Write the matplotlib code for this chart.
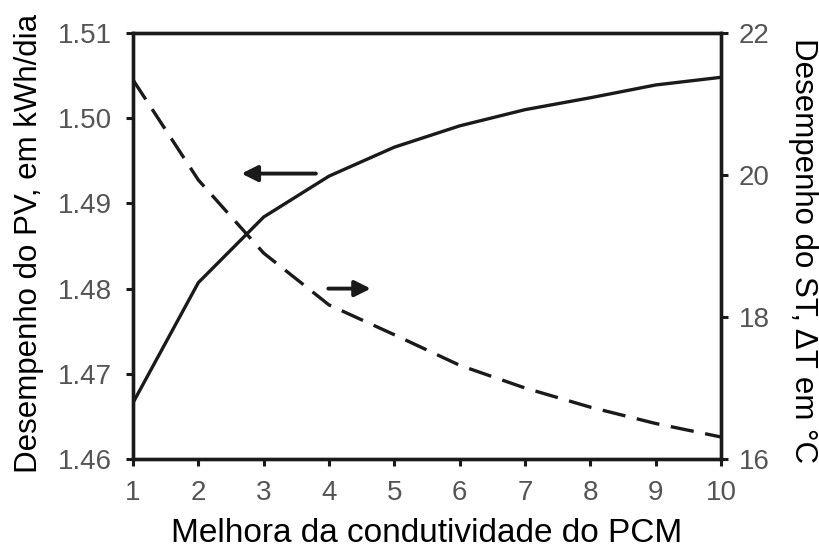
import matplotlib
matplotlib.use("Agg")
import matplotlib.pyplot as plt

plt.rcParams['font.family'] = ['Liberation Sans', 'DejaVu Sans']

conductivity = [1, 2, 3, 4, 5, 6, 7, 8, 9, 10]
pv_output = [1.4666, 1.4807, 1.4884, 1.4932, 1.4966, 1.4991, 1.5010, 1.5024, 1.5039, 1.5048]
st_delta_t = [21.34, 19.93, 18.90, 18.17, 17.75, 17.32, 17.00, 16.73, 16.50, 16.31]

x_ticks = [1, 2, 3, 4, 5, 6, 7, 8, 9, 10]
left_ticks = [1.46, 1.47, 1.48, 1.49, 1.50, 1.51]
right_ticks = [16, 18, 20, 22]

tick_color = '#555555'
line_color = '#1a1a1a'
fig = plt.figure(figsize=(8.2, 5.49), dpi=100)
ax = fig.add_axes([133/820, 1-459/549, (721-133)/820, (459-33)/549])
ax2 = ax.twinx()

ax.plot(conductivity, pv_output, color=line_color, lw=2.4, solid_joinstyle='round')
ax2.plot(conductivity, st_delta_t, color=line_color, lw=2.4, ls=(0, (7, 3.5)))

ax.set_xlim(1, 10)
ax.set_ylim(1.46, 1.51)
ax2.set_ylim(16, 22)
ax.set_xticks(x_ticks)
ax.set_yticks(left_ticks)
ax.set_yticklabels([f"{v:.2f}" for v in left_ticks])
ax2.set_yticks(right_ticks)

for a in (ax, ax2):
    for s in a.spines.values():
        s.set_linewidth(2.4)
        s.set_color(line_color)
    a.tick_params(direction='out', length=5, width=2.2, color=line_color,
                  labelsize=20, labelcolor=tick_color)
ax.tick_params(axis='x', pad=10)
ax.tick_params(axis='y', pad=10)
ax2.tick_params(axis='y', pad=8)

ax.set_xlabel('Melhora da condutividade do PCM', fontsize=24)
ax.xaxis.set_label_coords(0.499, -0.174)
ax.xaxis.label.set_va('center')

ax.set_ylabel('Desempenho do PV, em kWh/dia', fontsize=22.5)
ax.yaxis.set_label_coords(-0.177, 0.505)
ax.yaxis.label.set_va('center')

ax2.set_ylabel('Desempenho do ST, ΔT em °C', fontsize=22.5, rotation=270)
ax2.yaxis.set_label_coords(1.14, 0.49)
ax2.yaxis.label.set_va('center')

ax.annotate('', xy=(2.66, 1.4935), xytext=(3.8, 1.4935),
            arrowprops=dict(arrowstyle='-|>', color=line_color, lw=2.8,
                            mutation_scale=24, shrinkA=0, shrinkB=0))
ax2.annotate('', xy=(4.64, 18.4), xytext=(3.99, 18.4),
             arrowprops=dict(arrowstyle='-|>', color=line_color, lw=2.8,
                             mutation_scale=24, shrinkA=0, shrinkB=0))

fig.savefig('out.png', dpi=100)
